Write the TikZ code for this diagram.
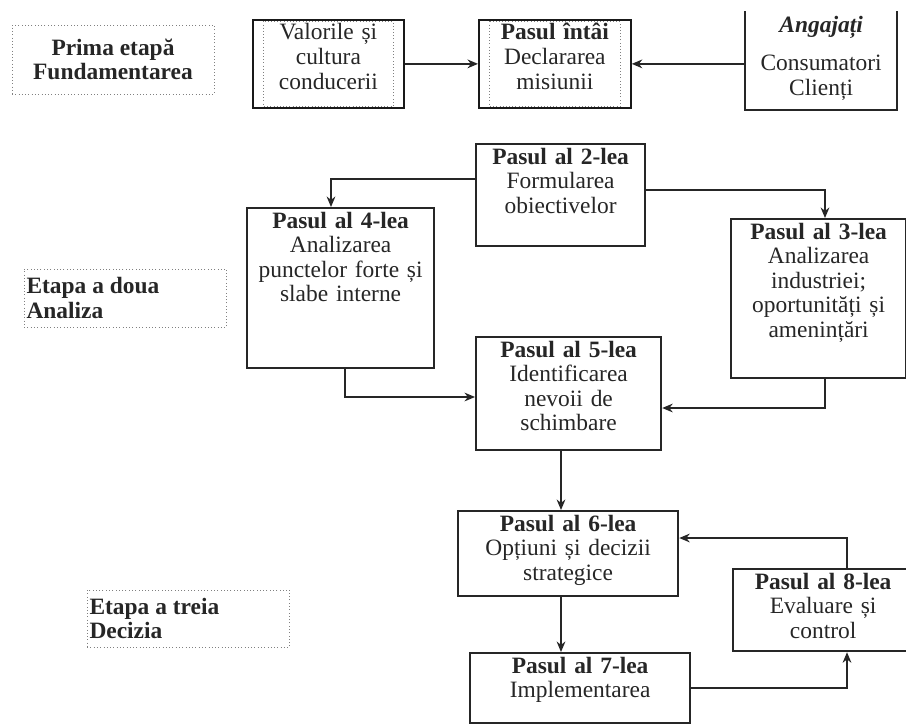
\documentclass[tikz,border=0pt]{standalone}
\usepackage{fontspec}
\setmainfont{Liberation Serif}
\usetikzlibrary{arrows.meta, positioning}

\begin{document}
\begin{tikzpicture}[
    x=0.03cm, y=-0.03cm,
    every node/.style={font=\fontsize{20}{21}\selectfont, text=black!85},
    stepbox/.style 2 args={draw=black!85, line width=1.9pt, fill=white, anchor=north west, inner sep=0pt, align=center, minimum width=#1*0.03cm, text width=#1*0.03cm-8pt, text height=17pt, text depth=#2*0.03cm-17pt},
    framebox/.style 2 args={stepbox={#1}{#2}, line width=1.5pt, draw=black!90},
    innerframe/.style={draw=gray, dotted, line width=0.7pt},
    stage/.style={draw=gray, dotted, line width=0.8pt, inner sep=2pt, font=\fontsize{20}{21}\selectfont\bfseries},
    arrow/.style={->, >={Stealth[length=9pt, width=7.5pt]}, line width=1.1pt, draw=black!85}
]
\useasboundingbox (0,0) rectangle (906,726);

% stage labels
\node[stage, minimum width=202*0.03cm, minimum height=69*0.03cm, align=center] (prima) at (113,59.5) {Prima etapă\\Fundamentarea};
\node[stage, text width=198*0.03cm, minimum height=58*0.03cm, align=flush left] (analiza) at (125.5,298) {Etapa a doua\\Analiza};
\node[stage, text width=198*0.03cm, minimum height=57*0.03cm, align=flush left] (decizia) at (188.5,618.5) {Etapa a treia\\Decizia};

% first row
\node[framebox={151}{88}] (val) at (252,19) {Valorile și\\cultura\\conducerii};
\node[framebox={152}{88}] (p1) at (478,19) {\textbf{Pasul întâi}\\Declararea\\misiunii};
\foreach \n in {val,p1}
  \draw[innerframe] ([shift={(10pt,-2pt)}]\n.north west) rectangle ([shift={(-10pt,2pt)}]\n.south east);
\node[stepbox={150}{97}, draw=none] (ang) at (745,11) {\textbf{\textit{Angajați}}\\[12pt]Consumatori\\Clienți};
\draw[line width=1.9pt, black!85] (ang.north west) -- (ang.south west) -- (ang.south east) -- (ang.north east);

% analysis
\node[stepbox={169}{102}] (p2) at (475,143) {\textbf{Pasul al 2-lea}\\Formularea\\obiectivelor};
\node[stepbox={187}{160}] (p4) at (246,207) {\textbf{Pasul al 4-lea}\\Analizarea\\punctelor forte și\\slabe interne};
\node[stepbox={175}{159}] (p3) at (730,218) {\textbf{Pasul al 3-lea}\\Analizarea\\industriei;\\oportunități și\\amenințări};
\node[stepbox={185}{113}] (p5) at (475,336) {\textbf{Pasul al 5-lea}\\Identificarea\\nevoii de\\schimbare};

% decision
\node[stepbox={220}{85}] (p6) at (457,510) {\textbf{Pasul al 6-lea}\\Opțiuni și decizii\\strategice};
\node[stepbox={180}{82}] (p8) at (732,568) {\textbf{Pasul al 8-lea}\\Evaluare și\\control};
\node[stepbox={220}{70}] (p7) at (469,652) {\textbf{Pasul al 7-lea}\\Implementarea};

\draw[arrow] (val) -- (p1);
\draw[arrow] (ang.west |- p1.east) -- (p1.east);
\draw[arrow] (p2.west |- 0,179) -| (p4.north -| 331,0);
\draw[arrow] (p2.east |- 0,190) -| (p3.north -| 825,0);
\draw[arrow] (p4.south -| 345,0) |- (p5.west |- 0,397);
\draw[arrow] (p3.south -| 825,0) |- (p5.east |- 0,408);
\draw[arrow] (p5.south -| 561,0) -- (p6.north -| 561,0);
\draw[arrow] (p6.south -| 561,0) -- (p7.north -| 561,0);
\draw[arrow] (p7.east) -| (p8.south -| 847,0);
\draw[arrow] (p8.north -| 847,0) |- (p6.east |- 0,538);

\end{tikzpicture}
\end{document}
